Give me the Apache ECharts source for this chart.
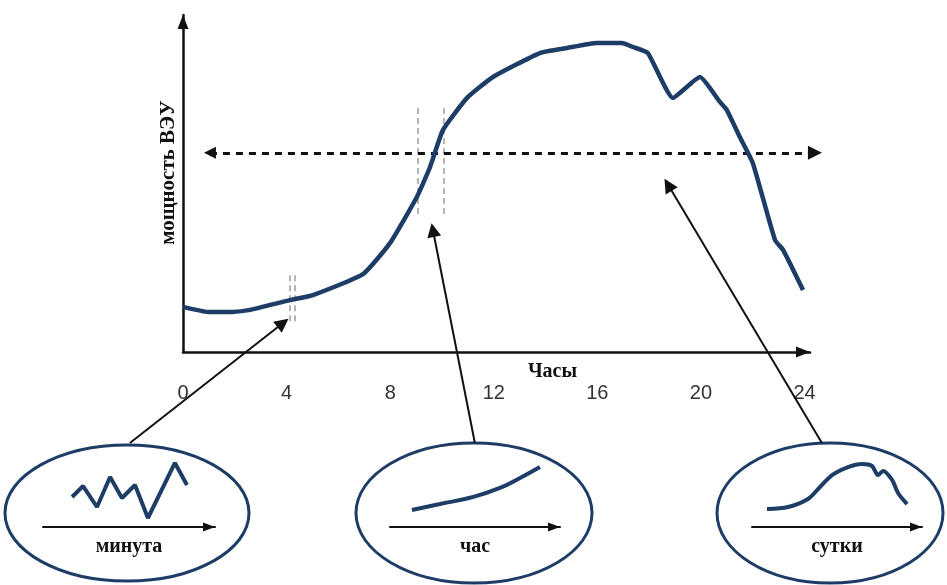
<!DOCTYPE html>
<html>
<head>
<meta charset="utf-8">
<script src="https://cdn.jsdelivr.net/npm/echarts@6/dist/echarts.min.js"></script>
<style>
html,body{margin:0;padding:0;background:#fff;}
#main{width:947px;height:585px;}
</style>
</head>
<body>
<div id="main"></div>
<script>
// ---- main daily curve ----
var hours = [0, 0.97, 1.93, 2.59, 4.13, 5.02, 6.95, 7.99, 9.03, 9.54, 10.04, 10.97, 11.97, 13.78, 14.83, 15.98, 16.95, 17.37, 17.95, 18.92, 19.96, 20.73, 21.0, 21.5, 22.0, 22.86, 23.17, 23.94];
var power = [13.4, 11.9, 11.9, 12.5, 15.4, 16.9, 23.1, 32.3, 46, 54.9, 65.9, 75.4, 81.6, 88.7, 90.2, 91.7, 91.7, 90.5, 88.7, 75.4, 81.6, 74.2, 71.8, 63.8, 56.1, 33.2, 30.3, 18.4];
var hourTicks = [0, 4, 8, 12, 16, 20, 24];
var xName = 'Часы';
var yName = 'мощность ВЭУ';

// dotted level line (power level, from hour to hour)
var levelValue = 59.1;
var levelFrom = 1.04;
var levelTo = 24.4;

// gray dashed window markers
var windowHours = [4.13, 4.32, 9.07, 10.08];
var windowLow = [8.9, 8.9, 40.7, 40.7];
var windowHigh = [22.8, 22.8, 72.4, 72.4];

// pointer arrows: start (below axis) -> tip on chart
var ptrStartH = [-2.05, 11.27, 24.67];
var ptrStartV = [-27.0, -27.0, -27.0];
var ptrTipH = [3.86, 9.65, 18.73];
var ptrTipV = [8.6, 36.2, 49.6];

// ---- insets ----
var insetNames = ['минута', 'час', 'сутки'];
var minuteX = [16.9, 23.3, 31.4, 39.0, 45.9, 53.5, 61.0, 76.7, 83.7];
var minuteY = [41.7, 56.9, 27.8, 69.4, 40.3, 58.3, 12.5, 88.9, 58.3];
var hourX = [12.9, 29.4, 48.8, 64.7, 76.5, 88.2];
var hourY = [23.6, 31.9, 41.7, 54.2, 68.1, 83.3];
var dayX = [8.8, 21.2, 32.9, 40, 47.1, 56.5, 64.7, 70.6, 74.1, 77.1, 82.4, 85.9, 91.2];
var dayY = [25, 27.8, 38.9, 55.6, 72.2, 83.3, 87.5, 84.7, 72.2, 77.8, 65.3, 47.2, 31.9];

function pairs(xs, ys) { return xs.map(function (x, i) { return [x, ys[i]]; }); }

var NAVY = '#1d3d66';
var chart = echarts.init(document.getElementById('main'), null, {renderer: 'canvas'});

var insetGrids = [
  {left: 43, top: 455, width: 172, height: 72},
  {left: 390, top: 455, width: 170, height: 72},
  {left: 752, top: 455, width: 170, height: 72}
];

var xAxes = [{
  gridIndex: 0, type: 'value', min: 0, max: 24.21, interval: 4,
  name: xName, nameLocation: 'middle', nameGap: 10, nameMoveOverlap: false,
  nameTextStyle: {fontFamily: 'Liberation Serif', fontWeight: 'bold', fontSize: 20, color: '#111', padding: [0, 0, 0, 112]},
  axisLine: {show: true, onZero: false, symbol: ['none', 'triangle'], symbolSize: [11, 14], symbolOffset: [0, -7], lineStyle: {color: '#111', width: 2.5}},
  axisTick: {show: false}, splitLine: {show: false},
  axisLabel: {margin: 31, fontFamily: 'Liberation Sans', fontSize: 20, color: '#333', showMaxLabel: false,
    formatter: function (v) { return hourTicks.indexOf(v) >= 0 ? String(v) : ''; }}
}];
var yAxes = [{
  gridIndex: 0, type: 'value', min: 0, max: 100,
  name: yName, nameLocation: 'middle', nameRotate: 90, nameGap: 4, nameMoveOverlap: false,
  nameTextStyle: {fontFamily: 'Liberation Serif', fontWeight: 'bold', fontSize: 21, color: '#111', padding: [0, 0, 0, 22]},
  axisLine: {show: true, onZero: false, symbol: ['none', 'triangle'], symbolSize: [11, 14], symbolOffset: [0, -7], lineStyle: {color: '#111', width: 2.5}},
  axisTick: {show: false}, splitLine: {show: false}, axisLabel: {show: false}
}];
insetGrids.forEach(function (g, i) {
  xAxes.push({
    gridIndex: i + 1, type: 'value', min: 0, max: 100,
    name: insetNames[i], nameLocation: 'middle', nameGap: 10,
    nameTextStyle: {fontFamily: 'Liberation Serif', fontWeight: 'bold', fontSize: 20, color: '#111'},
    axisLine: {show: true, onZero: false, symbol: ['none', 'triangle'], symbolSize: [9, 12], symbolOffset: [0, -6], lineStyle: {color: '#111', width: 2}},
    axisTick: {show: false}, splitLine: {show: false}, axisLabel: {show: false}
  });
  yAxes.push({gridIndex: i + 1, type: 'value', min: 0, max: 100, show: false});
});

var windowLines = windowHours.map(function (h, i) { return {coords: [[h, windowHigh[i]], [h, windowLow[i]]]}; });
var pointerLines = ptrTipH.map(function (h, i) { return {coords: [[ptrStartH[i], ptrStartV[i]], [h, ptrTipV[i]]]}; });

var ellipses = [
  {cx: 127, cy: 513, rx: 122, ry: 68},
  {cx: 474, cy: 513, rx: 118, ry: 70},
  {cx: 830, cy: 513, rx: 113, ry: 70}
];

chart.setOption({
  backgroundColor: '#ffffff',
  animation: false,
  grid: [{left: 183, top: 15, right: 137, bottom: 233}].concat(insetGrids),
  xAxis: xAxes,
  yAxis: yAxes,
  graphic: ellipses.map(function (e) {
    return {type: 'ellipse', shape: e, z: 1, style: {fill: 'transparent', stroke: NAVY, lineWidth: 3}};
  }),
  series: [
    {type: 'line', xAxisIndex: 0, yAxisIndex: 0, data: pairs(hours, power), smooth: 0.15, symbol: 'none',
      lineStyle: {color: NAVY, width: 4.5}, z: 5},
    {type: 'lines', coordinateSystem: 'cartesian2d', xAxisIndex: 0, yAxisIndex: 0, clip: false,
      symbol: ['none', 'none'], lineStyle: {color: '#b5b5b5', width: 2, type: [6, 4], opacity: 1, curveness: 0},
      data: windowLines, z: 3},
    {type: 'lines', coordinateSystem: 'cartesian2d', xAxisIndex: 0, yAxisIndex: 0, clip: false,
      symbol: ['triangle', 'triangle'], symbolSize: [12, 14],
      lineStyle: {color: '#111', width: 3, type: [7, 6], opacity: 1, curveness: 0},
      data: [{coords: [[levelFrom, levelValue], [levelTo, levelValue]]}], z: 4},
    {type: 'lines', coordinateSystem: 'cartesian2d', xAxisIndex: 0, yAxisIndex: 0, clip: false,
      symbol: ['none', 'triangle'], symbolSize: [11, 14],
      lineStyle: {color: '#111', width: 2, opacity: 1, curveness: 0},
      data: pointerLines, z: 6},
    {type: 'line', xAxisIndex: 1, yAxisIndex: 1, data: pairs(minuteX, minuteY), symbol: 'none',
      lineStyle: {color: NAVY, width: 4}},
    {type: 'line', xAxisIndex: 2, yAxisIndex: 2, data: pairs(hourX, hourY), symbol: 'none', smooth: true,
      lineStyle: {color: NAVY, width: 4}},
    {type: 'line', xAxisIndex: 3, yAxisIndex: 3, data: pairs(dayX, dayY), symbol: 'none', smooth: 0.3,
      lineStyle: {color: NAVY, width: 4}}
  ]
});
</script>
</body>
</html>
